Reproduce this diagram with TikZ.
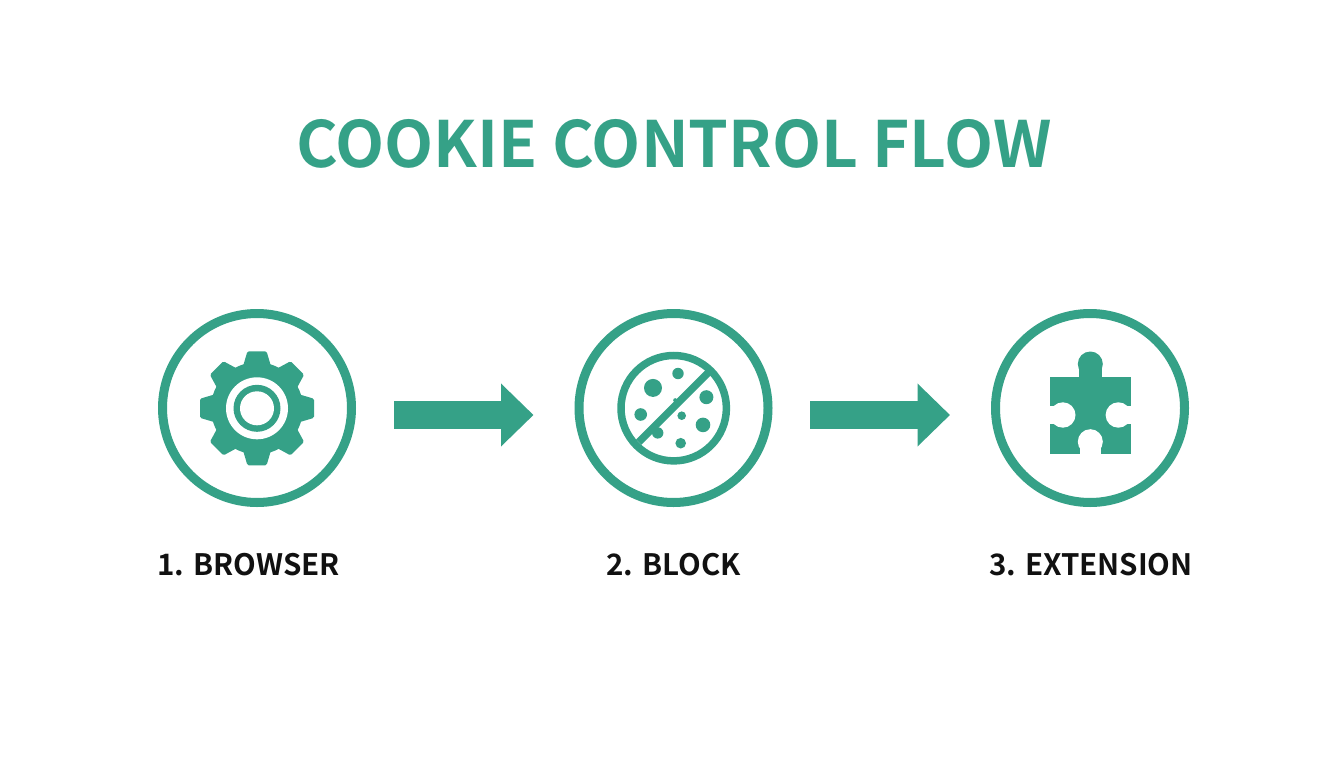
\documentclass[tikz,border=0pt]{standalone}
\usepackage{fontspec}
\setmainfont{Noto Sans CJK JP}[BoldFont={Noto Sans CJK JP Bold}]
\usetikzlibrary{arrows.meta,calc}
\definecolor{teal1}{HTML}{35A187}
\definecolor{ink}{HTML}{111111}
\tikzset{
  ring/.style={circle,draw=teal1,line width=9pt,minimum size=189pt,inner sep=0pt},
  blockarrow/.style={draw=teal1,line width=27.5pt,-{Triangle[length=32.5pt,width=61pt,fill=teal1]}},
  steplabel/.style={text=ink,font=\fontsize{29.5}{29.5}\selectfont\bfseries,anchor=center},
  titletext/.style={text=teal1,font=\fontsize{63.8}{63.8}\selectfont\bfseries,anchor=center}
}
\begin{document}
\begin{tikzpicture}[x=1pt,y=-1pt]
\useasboundingbox (0,0) rectangle (1344,768);
\fill[white] (0,0) rectangle (1344,768);
\node[titletext] (title) at (674,143.5) {COOKIE CONTROL FLOW};
\node[ring] (c1) at (257,408) {};
\node[ring] (c2) at (673.5,408) {};
\node[ring] (c3) at (1090,408) {};
\draw[blockarrow] ($(c1.east)+(38,7)$) -- ($(c2.west)+(-41,7)$);
\draw[blockarrow] ($(c2.east)+(37.5,7)$) -- ($(c3.west)+(-41,7)$);
\node[steplabel] (l1) at (248.5,564.5) {1. BROWSER};
\node[steplabel] (l2) at (673.5,564.5) {2. BLOCK};
\node[steplabel] (l3) at (1091,564.5) {3. EXTENSION};
% gear
\begin{scope}[shift={(257,408.3)}]
  \foreach \a in {0,45,...,315}{
    \fill[teal1,rotate=\a] (-14,-42) -- (-10,-55.5) [rounded corners=1.5pt] -- (-9.7,-57) -- (9.7,-57) [sharp corners] -- (10,-55.5) -- (14,-42) -- cycle;
  }
  \fill[teal1] (0,0) circle (46);
  \fill[white] (0,0) circle (31);
  \fill[teal1] (0,0) circle (23.5);
  \fill[white] (0,0) circle (17);
\end{scope}
% cookie
\begin{scope}[shift={(673.7,408.2)}]
  \draw[teal1,line width=7.5pt] (0,0) circle (52.7);
  \foreach \x/\y/\r in {-20.7/-20.3/9, 4.3/-34.7/5.7, 32.7/-11/7, -33/6.3/6.3, 8/7.5/4.3, 29.3/16.7/7.3, 7/35/5.3, -16/24.7/5.7, 1.5/-8/2}
    \fill[teal1] (\x,\y) circle (\r);
  \draw[teal1,line width=7.5pt] (35,-36) -- (-35,34);
\end{scope}
% puzzle
\fill[teal1] (1050,376.7) rectangle (1130.7,454);
\fill[teal1] (1079,366) rectangle (1101.5,378);
\fill[teal1] (1090.3,364) circle (12.5);
\fill[white] (1049,406) rectangle (1064,424);
\fill[white] (1062.8,415) circle (12.7);
\fill[white] (1117,406) rectangle (1132,424);
\fill[white] (1118.3,415) circle (12.7);
\fill[white] (1080,440) rectangle (1100.6,455);
\fill[white] (1090.3,441.7) circle (12.5);
\end{tikzpicture}
\end{document}
